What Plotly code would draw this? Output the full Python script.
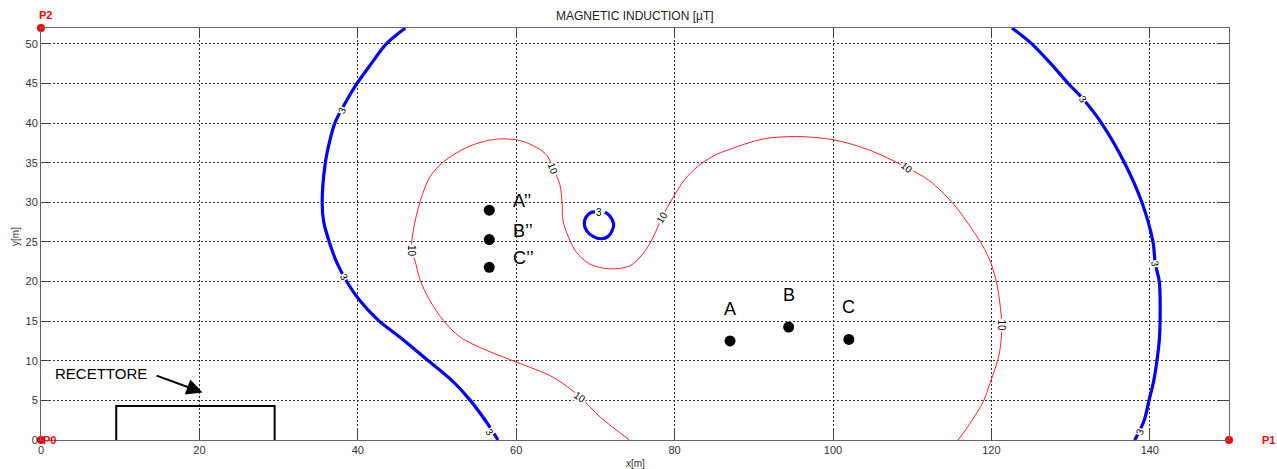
import plotly.graph_objects as go

# ---------------- data ----------------
# iso-line 3 µT, left branch (x, y in metres)
c3_left_x = [46.0, 43.6, 41.7, 39.9, 38.4, 37.1, 36.4, 35.9, 35.5, 35.7, 36.4, 37.3, 38.6, 40.1, 42.6, 45.3, 48.3, 52.1, 54.2, 56.7, 57.7]
c3_left_y = [52.0, 50.0, 47.5, 45.0, 42.5, 40.0, 37.5, 35.0, 30.0, 27.5, 25.0, 22.5, 20.0, 17.8, 15.1, 13.0, 10.5, 7.3, 5.0, 1.6, 0.0]

# iso-line 3 µT, right branch
c3_right_x = [122.6, 125.1, 127.5, 129.7, 131.6, 133.9, 136.8, 139.0, 140.4, 140.7, 141.2, 141.3, 141.2, 140.9, 140.5, 139.9, 139.3, 138.1]
c3_right_y = [52.0, 50.0, 47.5, 45.0, 43.0, 40.0, 35.0, 30.0, 25.0, 22.2, 20.0, 15.0, 12.6, 10.0, 7.5, 5.0, 2.5, 0.0]

# iso-line 3 µT, small closed loop
c3_loop_x = [71.2, 71.8, 72.3, 72.1, 71.6, 70.8, 69.7, 68.9, 68.6, 68.8, 69.5, 69.95]
c3_loop_y = [28.75, 28.3, 27.3, 26.4, 25.7, 25.4, 25.7, 26.4, 27.3, 28.1, 28.75, 28.8]

# iso-line 10 µT
c10_x = [74.3, 70.6, 68.1, 64.7, 60.1, 56.3, 52.9, 50.8, 49.1, 47.9, 47.2, 46.8, 47.0, 47.9, 49.1, 50.8,
         53.7, 56.0, 58.0, 60.5, 62.6, 63.9, 64.7, 65.5, 65.8, 65.9, 66.6, 67.6, 69.3, 71.8, 74.4, 76.0,
         77.3, 78.4, 79.8, 81.3, 83.0, 85.0, 87.0, 91.2, 95.4, 100.0, 104.3, 109.3, 112.2, 115.2, 117.7,
         118.9, 119.8, 120.5, 120.9, 121.3, 121.0, 119.8, 119.0, 117.3, 115.8]
c10_y = [0.0, 2.9, 5.4, 7.9, 9.8, 11.3, 13.0, 15.1, 17.6, 20.1, 22.7, 23.9, 26.4, 30.2, 33.2, 35.1,
         36.9, 37.7, 38.0, 37.8, 36.9, 35.9, 34.2, 32.3, 29.8, 27.7, 25.6, 23.7, 22.2, 21.6, 22.0, 23.5,
         25.6, 28.1, 30.6, 32.9, 34.6, 35.9, 36.7, 38.0, 38.3, 37.9, 36.7, 34.4, 32.7, 29.8, 26.4,
         24.5, 22.7, 20.5, 18.5, 14.5, 10.9, 7.1, 4.9, 2.1, 0.0]

# contour labels
c3_label_x = [38.0, 38.2, 56.7, 70.5, 131.6, 140.7, 138.7]
c3_label_y = [41.6, 20.6, 1.0, 28.75, 43.0, 22.2, 1.0]
c3_label_angle = [-65, 60, 55, 0, 50, 80, -70]
c10_label_x = [46.8, 64.7, 78.4, 109.3, 121.3, 68.1]
c10_label_y = [23.9, 34.2, 28.1, 34.4, 14.5, 5.4]
c10_label_angle = [90, 70, -60, 40, 90, 35]

# measurement points
abc_names = ["A", "B", "C"]
abc_x = [87.0, 94.4, 102.0]
abc_y = [12.5, 14.25, 12.7]
dbl_names = ["A’’", "B’’", "C’’"]
dbl_x = [56.6, 56.6, 56.6]
dbl_y = [29.0, 25.3, 21.8]

# reference corners
ref_names = ["P0", "P1", "P2"]
ref_x = [0, 150, 0]
ref_y = [0, 0, 52]

# receptor outline
recettore_x = [9.5, 9.5, 29.5, 29.5]
recettore_y = [0, 4.3, 4.3, 0]
recettore_arrow_from = (14.4, 8.2)
recettore_arrow_to = (20.4, 6.0)
recettore_text_pos = (7.6, 8.4)

x_ticks = [0, 20, 40, 60, 80, 100, 120, 140]
y_ticks = [0, 5, 10, 15, 20, 25, 30, 35, 40, 45, 50]

FONT = "Liberation Sans, Arial, Helvetica, sans-serif"

fig = go.Figure()

blue_line = dict(color="#0000ff", width=3.2)
for xs, ys in [(c3_left_x, c3_left_y), (c3_right_x, c3_right_y), (c3_loop_x, c3_loop_y)]:
    fig.add_trace(go.Scatter(x=xs, y=ys, mode="lines", line=dict(shape="spline", smoothing=0.9, **blue_line),
                             hoverinfo="skip"))

fig.add_trace(go.Scatter(x=c10_x, y=c10_y, mode="lines",
                         line=dict(color="#ff2020", width=1, shape="spline", smoothing=0.9), hoverinfo="skip"))

fig.add_trace(go.Scatter(x=recettore_x, y=recettore_y, mode="lines",
                         line=dict(color="black", width=2), hoverinfo="skip"))

fig.add_trace(go.Scatter(x=abc_x + dbl_x, y=abc_y + dbl_y, mode="markers",
                         marker=dict(color="black", size=11), hoverinfo="skip"))

fig.add_trace(go.Scatter(x=ref_x, y=ref_y, mode="markers", cliponaxis=False,
                         marker=dict(color="#ff0000", size=8), hoverinfo="skip"))

ann = []
for x, y, a in zip(c3_label_x, c3_label_y, c3_label_angle):
    ann.append(dict(x=x, y=y, text="3", showarrow=False, textangle=a, bgcolor="white", borderpad=0,
                    font=dict(size=10, color="black", family=FONT)))
for x, y, a in zip(c10_label_x, c10_label_y, c10_label_angle):
    ann.append(dict(x=x, y=y, text="10", showarrow=False, textangle=a, bgcolor="white", borderpad=0,
                    font=dict(size=10, color="black", family=FONT)))

for n, x, y in zip(abc_names, abc_x, abc_y):
    ann.append(dict(x=x, y=y, text=n, showarrow=False, yshift=32,
                    font=dict(size=18, color="black", family=FONT)))
for n, x, y in zip(dbl_names, dbl_x, dbl_y):
    ann.append(dict(x=x, y=y, text=n, showarrow=False, xanchor="left", xshift=22, yshift=9,
                    font=dict(size=18, color="black", family=FONT)))

ref_font = dict(size=11, color="#ff0000", family=FONT)
ann.append(dict(x=ref_x[0], y=ref_y[0], text="<b>" + ref_names[0] + "</b>", showarrow=False,
                xanchor="left", xshift=0, font=ref_font))
ann.append(dict(x=ref_x[1], y=ref_y[1], text="<b>" + ref_names[1] + "</b>", showarrow=False,
                xanchor="left", xshift=31, font=ref_font))
ann.append(dict(x=ref_x[2], y=ref_y[2], text="<b>" + ref_names[2] + "</b>", showarrow=False,
                xshift=4, yshift=13, font=ref_font))

ann.append(dict(x=recettore_arrow_to[0], y=recettore_arrow_to[1], ax=recettore_arrow_from[0],
                ay=recettore_arrow_from[1], axref="x", ayref="y", text="", showarrow=True,
                arrowhead=2, arrowsize=1.6, arrowwidth=2, arrowcolor="black"))
ann.append(dict(x=recettore_text_pos[0], y=recettore_text_pos[1], text="RECETTORE", showarrow=False,
                font=dict(size=15, color="black", family=FONT)))

# title and axis titles
ann.append(dict(xref="paper", yref="paper", x=0.5, y=1.029, xanchor="center", yanchor="middle",
                text="MAGNETIC INDUCTION [µT]",
                showarrow=False, font=dict(size=12, color="#222", family=FONT)))
ann.append(dict(xref="paper", yref="paper", x=0.5, y=-0.056, xanchor="center", yanchor="middle",
                text="x[m]", showarrow=False, font=dict(size=10, color="#333", family=FONT)))
ann.append(dict(xref="paper", yref="paper", x=-0.022, y=0.495, xanchor="center", yanchor="middle",
                text="y[m]", textangle=-90,
                showarrow=False, font=dict(size=10, color="#333", family=FONT)))

axis_common = dict(showgrid=True, gridcolor="#333", griddash="2px,2px", gridwidth=1,
                   showline=True, linecolor="#666", linewidth=1, mirror="ticks",
                   ticks="inside", ticklen=10, tickcolor="#444", zeroline=False,
                   tickfont=dict(size=11, color="#333", family=FONT))

fig.update_layout(
    width=1277, height=469, autosize=False,
    margin=dict(l=41, r=48, t=28, b=29),
    plot_bgcolor="white", paper_bgcolor="white", showlegend=False,
    xaxis=dict(range=[0, 150], tickvals=x_ticks, **axis_common),
    yaxis=dict(range=[0, 52], tickvals=y_ticks, **axis_common),
    annotations=ann,
)

fig.write_html("out.html", config={"displayModeBar": False},
               post_script="document.body.style.margin='0';document.body.style.overflow='hidden';")
